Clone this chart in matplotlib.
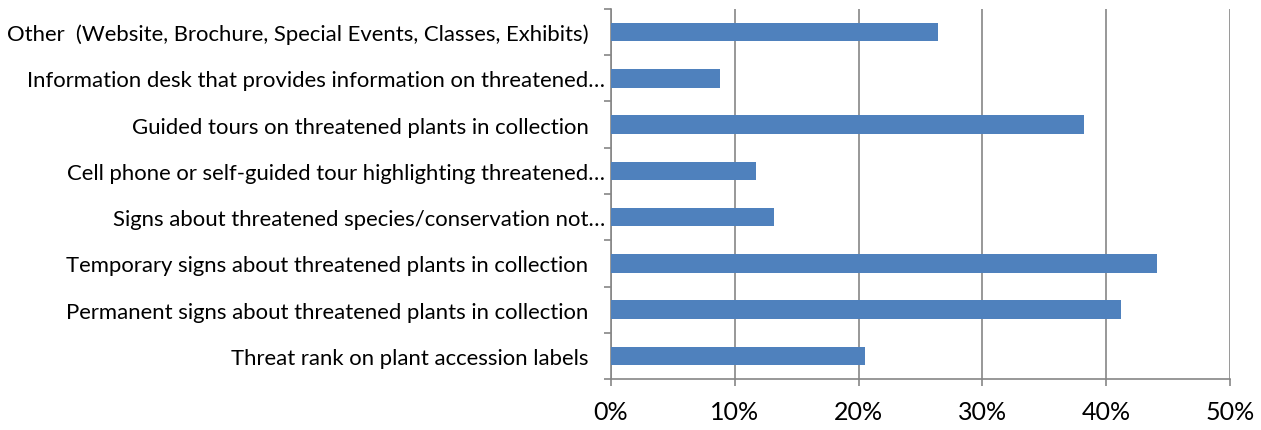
import numpy as np
import matplotlib.pyplot as plt
from matplotlib.ticker import PercentFormatter

plt.rcParams['font.family'] = ['Lato', 'DejaVu Sans']

# categories from bottom to top
categories = [
    'Threat rank on plant accession labels   ',
    'Permanent signs about threatened plants in collection   ',
    'Temporary signs about threatened plants in collection   ',
    'Signs about threatened species/conservation not…',
    'Cell phone or self-guided tour highlighting threatened…',
    'Guided tours on threatened plants in collection   ',
    'Information desk that provides information on threatened…',
    'Other  (Website, Brochure, Special Events, Classes, Exhibits)   ',
]
values = [20.5, 41.2, 44.1, 13.2, 11.7, 38.2, 8.8, 26.4]
x_ticks = [0, 10, 20, 30, 40, 50]

grid_color = '#868686'

fig = plt.figure(figsize=(12.61, 4.31), dpi=100)
ax = fig.add_axes([0.4845, 0.118, 0.4910, 0.859])

y = np.arange(len(categories))
ax.barh(y, values, height=0.4, color='#4F81BD', zorder=3)

ax.set_xlim(0, 50)
ax.set_ylim(-0.5, len(categories) - 0.5)
ax.set_xticks(x_ticks)
ax.xaxis.set_major_formatter(PercentFormatter(decimals=0))
ax.xaxis.grid(True, color=grid_color, linewidth=1.2, zorder=0)

# category labels sit between the boundary ticks
ax.set_yticks(y)
ax.set_yticklabels(categories)
ax.set_yticks(np.arange(len(categories) + 1) - 0.5, minor=True)
ax.tick_params(axis='y', which='major', length=0, pad=4, labelsize=15.9)
ax.tick_params(axis='y', which='minor', length=5, color=grid_color, width=1.2)
ax.tick_params(axis='x', length=5, color=grid_color, width=1.2, labelsize=18, pad=10)

for side in ['top', 'right']:
    ax.spines[side].set_visible(False)
for side in ['left', 'bottom']:
    ax.spines[side].set_color(grid_color)
    ax.spines[side].set_linewidth(1.2)

plt.savefig('out.png', dpi=100)
